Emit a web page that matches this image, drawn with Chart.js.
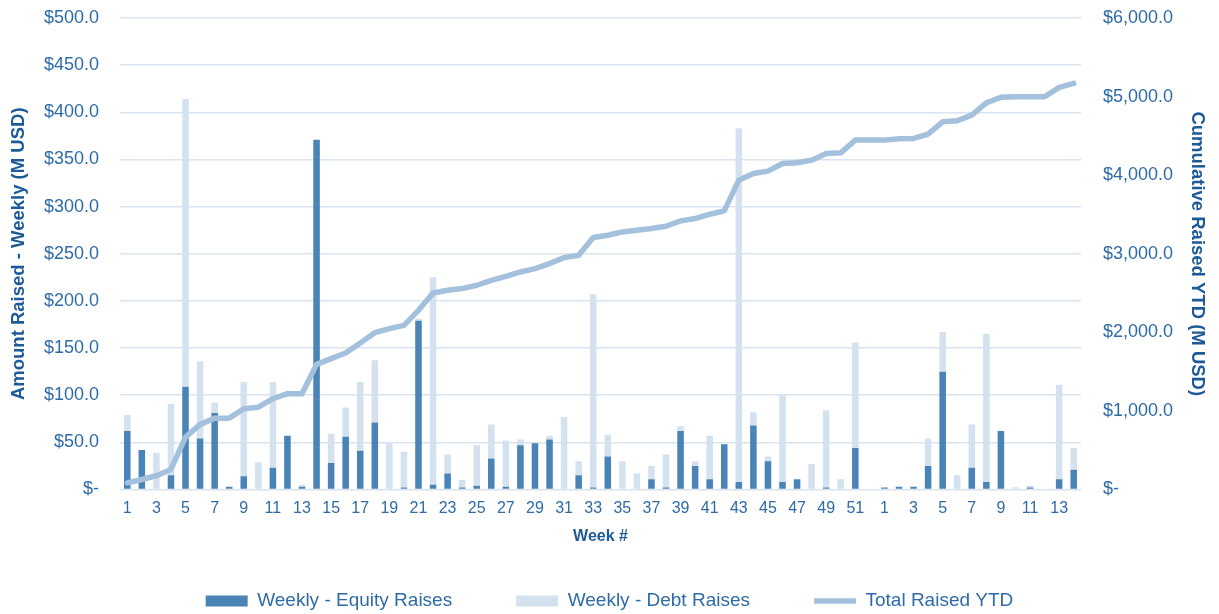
<!DOCTYPE html>
<html lang="en">
<head>
  <meta charset="UTF-8" />
  <title>Weekly Capital Raised</title>
  <script src="https://cdn.jsdelivr.net/npm/chart.js"></script>
  <style>
    body {
      margin: 0;
      background: #ffffff;
    }
    .wrap {
      position: relative;
      width: 1219px;
      height: 614px;
    }
  </style>
</head>
<body>
  <div class="wrap">
    <canvas id="raisedChart"></canvas>
  </div>

  <script>
    // week numbers: full year then the first weeks of the next one
    const weeks = [
      1, 2, 3, 4, 5, 6, 7, 8, 9, 10, 11, 12, 13, 14, 15, 16, 17, 18, 19, 20,
      21, 22, 23, 24, 25, 26, 27, 28, 29, 30, 31, 32, 33, 34, 35, 36, 37, 38, 39, 40,
      41, 42, 43, 44, 45, 46, 47, 48, 49, 50, 51, 52,
      1, 2, 3, 4, 5, 6, 7, 8, 9, 10, 11, 12, 13, 14
    ];

    // M USD per week
    const equityRaises = [
      62, 42, 0, 15, 109, 54, 81, 3, 14, 0, 23, 57, 3, 371, 28, 56, 41, 71, 0, 2,
      179, 5, 17, 2, 4, 33, 3, 47, 49, 53, 0, 15, 2, 35, 0, 0, 11, 2, 62, 25,
      11, 48, 8, 68, 30, 8, 11, 0, 2, 0, 44, 0,
      2, 3, 3, 25, 125, 0, 23, 8, 62, 0, 2, 0, 11, 21
    ];

    const debtRaises = [
      17, 0, 39, 76, 305, 82, 11, 0, 100, 29, 91, 0, 2, 0, 31, 31, 73, 66, 49, 38,
      2, 220, 20, 8, 43, 36, 49, 6, 0, 4, 77, 15, 205, 23, 30, 17, 14, 35, 5, 5,
      46, 0, 375, 14, 5, 92, 0, 27, 82, 11, 112, 0,
      0, 0, 0, 29, 42, 15, 46, 157, 0, 2.5, 2, 0, 100, 23
    ];

    // cumulative
    const totalYTD = [
      85, 127, 175, 255, 666, 828, 908, 908, 1028, 1048, 1155, 1219, 1219, 1592, 1665, 1737, 1864, 1996, 2047, 2089,
      2280, 2501, 2535, 2557, 2599, 2662, 2713, 2768, 2811, 2875, 2951, 2981, 3206, 3236, 3278, 3299, 3321, 3350, 3418, 3448,
      3503, 3545, 3936, 4021, 4051, 4149, 4157, 4191, 4276, 4284, 4446, 4446,
      4446, 4463, 4467, 4522, 4679, 4692, 4764, 4921, 4990, 4998, 4998, 4998, 5117, 5168
    ];

    const tickColor = '#2e6ba7';
    const titleColor = '#1c5a98';

    function money(value) {
      if (value === 0) return '$-';
      return '$' + Number(value).toLocaleString('en-US', { minimumFractionDigits: 1, maximumFractionDigits: 1 });
    }

    // pin a vertical axis to a fixed width and drop the tick-label overhang
    function fixWidth(w) {
      return (scale) => {
        scale.width = w;
        scale.paddingTop = 0;
        scale.paddingBottom = 0;
      };
    }

    Chart.defaults.font.family = '"Liberation Sans", Arial, sans-serif';

    const ctx = document.getElementById('raisedChart').getContext('2d');

    new Chart(ctx, {
      type: 'bar',
      data: {
        labels: weeks,
        datasets: [
          {
            label: 'Weekly - Equity Raises',
            data: equityRaises,
            yAxisID: 'y',
            backgroundColor: '#4a84b6',
            pointStyle: 'rect',
            barPercentage: 0.45,
            categoryPercentage: 1,
            order: 1
          },
          {
            label: 'Weekly - Debt Raises',
            data: debtRaises,
            yAxisID: 'y',
            backgroundColor: '#d4e2ef',
            pointStyle: 'rect',
            barPercentage: 0.45,
            categoryPercentage: 1,
            order: 2
          },
          {
            type: 'line',
            label: 'Total Raised YTD',
            data: totalYTD,
            yAxisID: 'y2',
            borderColor: '#a3c1dd',
            backgroundColor: '#a3c1dd',
            borderWidth: 5.5,
            borderCapStyle: 'round',
            borderJoinStyle: 'round',
            pointRadius: 0,
            pointStyle: 'line',
            tension: 0,
            order: 0
          }
        ]
      },
      options: {
        responsive: true,
        maintainAspectRatio: false,
        animation: false,
        layout: {
          padding: { left: 0, right: 0, top: 18, bottom: -6.5 }
        },
        plugins: {
          tooltip: { enabled: false },
          legend: {
            position: 'bottom',
            labels: {
              usePointStyle: true,
              pointStyleWidth: 42,
              boxWidth: 42,
              boxHeight: 11,
              padding: 64,
              color: tickColor,
              font: { size: 19 },
              sort: (a, b) => a.datasetIndex - b.datasetIndex
            }
          }
        },
        scales: {
          x: {
            stacked: true,
            grid: { display: false, drawTicks: false },
            border: { display: false },
            ticks: {
              autoSkip: false,
              maxRotation: 0,
              padding: 9,
              color: tickColor,
              font: { size: 16 },
              callback: (v, i) => (i % 2 === 0 ? String(weeks[i]) : '')
            },
            title: {
              display: true,
              text: 'Week #',
              color: titleColor,
              font: { size: 16, weight: 'bold' },
              padding: { top: 0, bottom: -19 }
            },
            afterFit: (scale) => { scale.height = 38; }
          },
          y: {
            stacked: true,
            position: 'left',
            min: 0,
            max: 500,
            ticks: {
              stepSize: 50,
              padding: 21,
              color: tickColor,
              font: { size: 18 },
              callback: (v) => money(v)
            },
            grid: { color: '#d8e4f0', lineWidth: 1.5, drawTicks: false },
            border: { display: false },
            title: {
              display: true,
              text: 'Amount Raised - Weekly (M USD)',
              color: titleColor,
              font: { size: 18.5, weight: 'bold' },
              padding: { top: 8, bottom: 0 }
            },
            afterFit: fixWidth(120)
          },
          y2: {
            position: 'right',
            min: 0,
            max: 6000,
            ticks: {
              stepSize: 1000,
              padding: 22,
              color: tickColor,
              font: { size: 18 },
              callback: (v) => money(v)
            },
            grid: { display: false, drawTicks: false },
            border: { display: false },
            title: {
              display: true,
              text: 'Cumulative Raised YTD (M USD)',
              color: titleColor,
              font: { size: 18.5, weight: 'bold' },
              padding: { top: 11, bottom: 0 }
            },
            afterFit: fixWidth(138)
          }
        }
      }
    });
  </script>
</body>
</html>
